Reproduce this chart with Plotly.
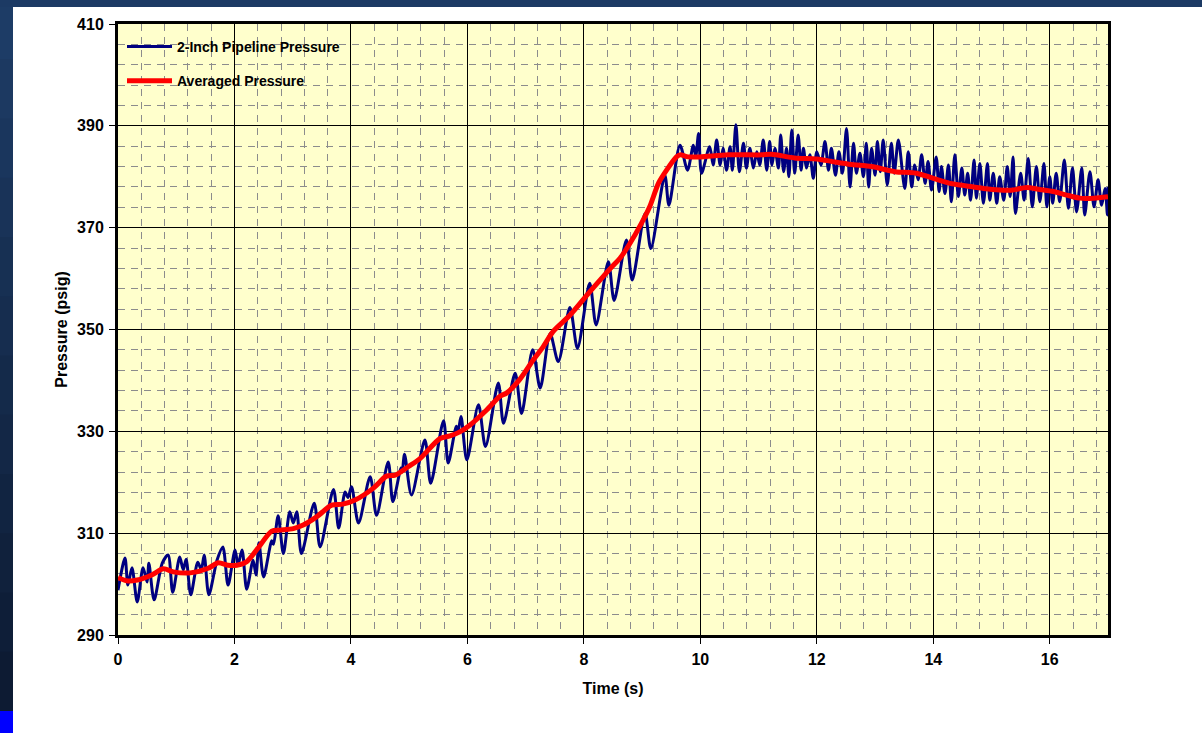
import plotly.graph_objects as go

# ---------------- data ----------------
blue_time = [
    0.00, 0.12, 0.17, 0.24, 0.33, 0.43, 0.50, 0.53, 0.62, 0.76, 0.86, 0.94,
    1.06, 1.12, 1.17, 1.25, 1.37, 1.43, 1.48, 1.56, 1.70, 1.80, 1.89, 2.01,
    2.06, 2.13, 2.21, 2.32, 2.37, 2.42, 2.50, 2.64, 2.67, 2.75, 2.84, 2.95,
    3.01, 3.07, 3.15, 3.37, 3.47, 3.70, 3.79, 3.90, 3.95, 4.01, 4.13, 4.33,
    4.44, 4.64, 4.72, 4.86, 4.88, 4.92, 5.04, 5.27, 5.37, 5.59, 5.67, 5.81,
    5.84, 5.89, 5.99, 6.19, 6.31, 6.53, 6.62, 6.82, 6.93, 7.12, 7.25, 7.42,
    7.56, 7.76, 7.89, 8.10, 8.21, 8.42, 8.52, 8.73, 8.83, 9.05, 9.15, 9.39,
    9.46, 9.65, 9.78, 9.88, 9.92, 9.97, 10.02,
    10.16, 10.22, 10.28, 10.34, 10.39, 10.45, 10.51, 10.55, 10.61, 10.67,
    10.74, 10.79, 10.85, 10.91, 10.97, 11.02, 11.08, 11.14, 11.19, 11.23,
    11.28, 11.34, 11.38, 11.43, 11.48, 11.52, 11.57, 11.62, 11.68, 11.73,
    11.77, 11.82, 11.88, 11.94, 12.00, 12.07, 12.14, 12.20, 12.25, 12.32,
    12.38, 12.44, 12.51, 12.57, 12.63, 12.68, 12.74, 12.80, 12.85, 12.89,
    12.94, 13.00, 13.04, 13.09, 13.14, 13.21, 13.28, 13.33, 13.40, 13.51,
    13.57, 13.63, 13.68, 13.74, 13.80, 13.86, 13.91, 13.97, 14.05, 14.10,
    14.14, 14.20, 14.26, 14.31, 14.37, 14.43, 14.49, 14.54, 14.59, 14.64,
    14.70, 14.74, 14.80, 14.86, 14.93, 14.97, 15.03, 15.09, 15.14, 15.21,
    15.27, 15.32, 15.37, 15.41, 15.50, 15.56, 15.63, 15.70, 15.77, 15.83,
    15.90, 15.95, 16.00, 16.05, 16.11, 16.17, 16.25, 16.32, 16.39, 16.46,
    16.55, 16.60, 16.69, 16.76, 16.83, 16.89, 16.95, 16.99, 17.00,
]
blue_pressure = [
    298.8, 305.1, 299.8, 303.2, 296.5, 303.2, 300.4, 304.1, 296.9, 304.1, 305.7, 298.4,
    305.3, 302.8, 304.9, 297.9, 304.3, 302.8, 305.7, 297.9, 304.7, 307.3, 299.8, 306.7,
    303.7, 306.7, 299.0, 304.7, 301.8, 308.1, 301.4, 308.5, 307.8, 313.4, 306.0, 314.2,
    312.0, 314.2, 306.0, 315.9, 307.3, 318.6, 311.0, 318.1, 317.0, 319.1, 312.0, 321.1,
    313.5, 324.0, 316.2, 322.8, 322.0, 325.5, 317.5, 328.3, 319.8, 332.1, 323.8, 331.0,
    330.0, 332.9, 324.4, 335.2, 327.0, 339.5, 331.6, 341.4, 333.5, 346.0, 338.5, 349.2,
    343.7, 354.3, 346.3, 359.1, 350.9, 363.3, 355.7, 367.6, 359.7, 372.8, 365.9, 380.3,
    374.4, 386.2, 381.3, 386.2, 384.0, 388.5, 380.7,
    385.9, 382.3, 387.2, 382.3, 385.6, 381.3, 385.9, 381.3, 390.2, 381.0,
    386.6, 381.7, 385.6, 381.7, 384.9, 382.3, 387.2, 381.3, 386.9, 382.3,
    385.6, 381.7, 388.2, 381.0, 385.6, 380.0, 389.2, 380.7, 388.2, 381.3,
    385.6, 381.7, 384.3, 379.7, 384.9, 382.3, 386.9, 381.3, 385.6, 380.3,
    384.9, 380.7, 389.5, 378.0, 386.6, 380.7, 384.6, 380.0, 386.6, 378.0,
    385.6, 380.3, 386.9, 381.0, 387.2, 378.4, 386.6, 380.7, 387.2, 377.7,
    384.9, 378.0, 382.3, 379.4, 384.3, 378.7, 383.0, 377.4, 383.9, 377.1,
    382.0, 376.7, 382.3, 375.1, 384.3, 376.1, 381.7, 376.4, 380.7, 375.4,
    383.3, 375.8, 382.6, 374.8, 382.6, 375.4, 380.7, 374.8, 380.0, 375.4,
    382.0, 376.1, 383.9, 372.8, 380.7, 375.4, 383.6, 374.1, 382.0, 375.1,
    382.6, 374.1, 380.0, 374.8, 380.7, 375.1, 383.3, 373.8, 381.7, 373.1,
    381.7, 372.5, 381.0, 374.1, 379.4, 374.4, 377.7, 372.5, 378.0,
]

avg_time = [
    0.00, 0.17, 0.33, 0.58, 0.78, 0.95, 1.24, 1.55, 1.72, 1.89, 2.04, 2.21,
    2.40, 2.64, 2.78, 3.01, 3.18, 3.41, 3.67, 3.86, 4.07, 4.38, 4.61, 4.76,
    4.99, 5.19, 5.53, 5.70, 5.87, 6.04, 6.33, 6.56, 6.67, 6.90, 7.13, 7.30,
    7.47, 7.76, 8.10, 8.33, 8.48, 8.62, 8.79, 8.99, 9.13, 9.28, 9.42, 9.59,
    9.65, 9.79, 9.99, 10.48, 11.05, 11.22, 11.62, 12.00, 12.31, 12.60, 12.94,
    13.34, 13.71, 14.00, 14.29, 14.57, 14.86, 15.14, 15.37, 15.60, 15.83,
    16.06, 16.29, 16.52, 16.75, 17.00,
]
avg_pressure = [
    301.3, 300.6, 300.8, 301.8, 303.0, 302.4, 302.2, 303.1, 304.2, 303.7, 303.7, 304.4,
    307.0, 310.4, 310.6, 310.9, 311.6, 313.2, 315.5, 315.7, 316.5, 318.8, 321.2, 321.4,
    323.1, 324.7, 328.6, 329.1, 329.9, 331.2, 334.2, 336.9, 337.5, 340.2, 344.0, 346.6,
    349.6, 352.8, 357.4, 360.4, 362.3, 364.0, 366.9, 370.9, 374.1, 378.7, 381.3, 383.9,
    384.3, 383.9, 383.9, 384.3, 384.3, 384.4, 383.7, 383.5, 382.9, 382.4, 382.0,
    381.0, 380.7, 379.7, 378.7, 378.2, 377.7, 377.4, 377.4, 377.9, 377.5,
    377.1, 376.4, 375.8, 375.8, 376.1,
]

x_tick_vals = [0, 2, 4, 6, 8, 10, 12, 14, 16]
y_tick_vals = [290, 310, 330, 350, 370, 390, 410]

series_names = ["2-Inch Pipeline Pressure", "Averaged Pressure"]

# ---------------- figure ----------------
W, H = 1202, 733
ML, MR, MT, MB = 118, 94, 24, 98
PW, PH = W - ML - MR, H - MT - MB

FONT = "Arial, Liberation Sans, sans-serif"

fig = go.Figure()
fig.add_trace(go.Scatter(
    x=blue_time, y=blue_pressure, mode="lines", name=series_names[0],
    legendgroup="g1",
    line=dict(color="#000080", width=3, shape="spline", smoothing=0.8),
))
fig.add_trace(go.Scatter(
    x=avg_time, y=avg_pressure, mode="lines", name=series_names[1],
    legendgroup="g2",
    line=dict(color="#FF0000", width=5, shape="spline", smoothing=0.8),
))


def px_x(p):
    return (p - ML) / PW


def px_y(p):
    return (H - MB - p) / PH


shapes = []
# left dark band as gradient strips (slightly overlapping to avoid seams)
n = 12
top_c = (0x1d, 0x3c, 0x66)
bot_c = (0x0d, 0x1b, 0x33)
band_bottom = 711
for i in range(n):
    y0p = i * band_bottom / n
    y1p = min((i + 1) * band_bottom / n + 2, band_bottom)
    f = i / (n - 1)
    c = tuple(int(round(top_c[k] + (bot_c[k] - top_c[k]) * f)) for k in range(3))
    shapes.append(dict(type="rect", xref="paper", yref="paper",
                       x0=px_x(-2), x1=px_x(13), y0=px_y(y1p), y1=px_y(y0p),
                       fillcolor="rgb(%d,%d,%d)" % c, line=dict(width=0)))
# top dark band
shapes.append(dict(type="rect", xref="paper", yref="paper",
                   x0=px_x(-2), x1=px_x(W + 2), y0=px_y(7), y1=px_y(-2),
                   fillcolor="#1c3a64", line=dict(width=0)))
# bright blue corner square
shapes.append(dict(type="rect", xref="paper", yref="paper",
                   x0=px_x(-2), x1=px_x(13), y0=px_y(H + 2), y1=px_y(band_bottom),
                   fillcolor="#0000FF", line=dict(width=0)))

axis_common = dict(
    showline=True, linewidth=3, linecolor="#000000", mirror=True,
    ticks="outside", ticklen=6, tickwidth=1, tickcolor="#000000",
    showgrid=True, gridcolor="#000000", gridwidth=1,
    zeroline=False,
    tickfont=dict(family=FONT, size=16, color="#000000", weight="bold"),
)

fig.update_layout(
    width=W, height=H,
    margin=dict(l=ML, r=MR, t=MT, b=MB, pad=0),
    paper_bgcolor="#FFFFFF",
    plot_bgcolor="#FFFFCC",
    shapes=shapes,
    showlegend=True,
    legend=dict(
        x=px_x(122), y=px_y(31), xanchor="left", yanchor="top",
        bgcolor="rgba(0,0,0,0)", borderwidth=0,
        font=dict(family=FONT, size=14, color="#000000", weight="bold"),
        traceorder="grouped", tracegroupgap=13, itemwidth=45,
    ),
    xaxis=dict(
        range=[0, 17], tickmode="array", tickvals=x_tick_vals,
        ticklabelstandoff=2,
        title=dict(text="Time (s)", standoff=16,
                   font=dict(family=FONT, size=16, color="#000000", weight="bold")),
        minor=dict(dtick=0.4, tick0=0, showgrid=True, gridcolor="#8c8c8c",
                   gridwidth=1, griddash="7px,6px", ticks=""),
        **axis_common,
    ),
    yaxis=dict(
        range=[290, 410], tickmode="array", tickvals=y_tick_vals,
        ticklabelstandoff=2,
        title=dict(text="Pressure (psig)", standoff=6,
                   font=dict(family=FONT, size=16, color="#000000", weight="bold")),
        minor=dict(dtick=4, tick0=290, showgrid=True, gridcolor="#8c8c8c",
                   gridwidth=1, griddash="7px,6px", ticks=""),
        **axis_common,
    ),
)

fig.write_html(
    "out.html",
    config={"displayModeBar": False},
    post_script="document.body.style.margin='0px';document.body.style.overflow='hidden';",
)
